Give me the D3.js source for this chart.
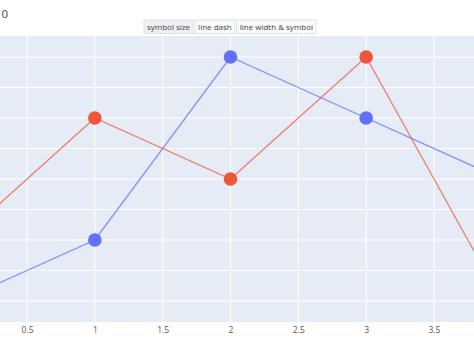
<!DOCTYPE html>
<html>
<head>
<meta charset="utf-8">
<script src="https://cdn.jsdelivr.net/npm/d3@7"></script>
<style>
  body { margin: 0; background: #fff; }
  svg { display: block; font-family: "Open Sans", verdana, arial, sans-serif; }
</style>
</head>
<body>
<svg id="chart" width="474" height="351"></svg>
<script>
// data
const xValues = [0, 1, 2, 3, 4]
const trace0 = [1, 3, 9, 7, 5]
const trace1 = [3, 7, 5, 9, 1]
const xTicks = [0.5, 1, 1.5, 2, 2.5, 3, 3.5]
const yTicks = [1, 2, 3, 4, 5, 6, 7, 8, 9]
const buttonLabels = ['symbol size', 'line dash', 'line width & symbol']
const titleText = '0'
const colors = ['#636efa', '#EF553B']

const svg = d3.select('#chart')
const plot = { top: 36, bottom: 322, left: 0, right: 474 }

const x = d3.scaleLinear().domain([0, 4]).range([-40.8, 501.8])
const y = d3.scaleLinear().domain([0.311, 9.689]).range([plot.bottom, plot.top])

// background
svg.append('rect')
  .attr('x', plot.left).attr('y', plot.top)
  .attr('width', plot.right - plot.left).attr('height', plot.bottom - plot.top)
  .attr('fill', '#e5ecf6')

// grid
const grid = svg.append('g')
grid.selectAll('.vx').data(xTicks).join('line')
  .attr('x1', d => x(d)).attr('x2', d => x(d))
  .attr('y1', plot.top).attr('y2', plot.bottom)
  .attr('stroke', '#fff').attr('stroke-width', 1)
grid.selectAll('.hy').data(yTicks).join('line')
  .attr('x1', plot.left).attr('x2', plot.right)
  .attr('y1', d => y(d)).attr('y2', d => y(d))
  .attr('stroke', '#fff').attr('stroke-width', 1)

// x axis labels
const xAxis = svg.append('g')
  .attr('transform', `translate(0,${plot.bottom})`)
  .call(d3.axisBottom(x).tickValues(xTicks).tickSize(0).tickPadding(5).tickFormat(d3.format('~g')))
xAxis.select('.domain').remove()
xAxis.selectAll('text')
  .attr('fill', '#555')
  .style('font-size', '8.5px')
  .style('font-family', '"Open Sans", verdana, arial, sans-serif')

// clip to plot area
svg.append('clipPath').attr('id', 'clip')
  .append('rect')
  .attr('x', plot.left).attr('y', plot.top)
  .attr('width', plot.right - plot.left).attr('height', plot.bottom - plot.top)

const series = [trace0, trace1]
const g = svg.append('g').attr('clip-path', 'url(#clip)')

const line = d3.line()
  .x((d, i) => x(xValues[i]))
  .y(d => y(d))

series.forEach((s, k) => {
  g.append('path')
    .datum(s)
    .attr('fill', 'none')
    .attr('stroke', colors[k])
    .attr('stroke-opacity', 0.75)
    .attr('stroke-width', 1.3)
    .attr('d', line)
})
series.forEach((s, k) => {
  g.selectAll('.m' + k)
    .data(s)
    .join('circle')
    .attr('cx', (d, i) => x(xValues[i]))
    .attr('cy', d => y(d))
    .attr('r', 6.8)
    .attr('fill', colors[k])
})

// title (only its last character is visible in the frame)
svg.append('text')
  .attr('x', 1.5).attr('y', 18)
  .attr('fill', '#444')
  .style('font-size', '11.5px')
  .text(titleText)

// update menu buttons
const btnG = svg.append('g')
let bx = 144
buttonLabels.forEach((label, i) => {
  const b = btnG.append('g')
  const r = b.append('rect')
    .attr('y', 20).attr('height', 13.5)
    .attr('fill', i === 0 ? '#eef0f3' : '#f8fafc')
    .attr('stroke', '#d5dbe5').attr('stroke-width', 0.8)
  const t = b.append('text')
    .attr('y', 29.7)
    .attr('fill', '#444')
    .attr('text-anchor', 'middle')
    .style('font-size', '8px')
    .text(label)
  const w = t.node().getComputedTextLength() + 6
  r.attr('x', bx).attr('width', w)
  t.attr('x', bx + w / 2)
  bx += w + 2
})
</script>
</body>
</html>
